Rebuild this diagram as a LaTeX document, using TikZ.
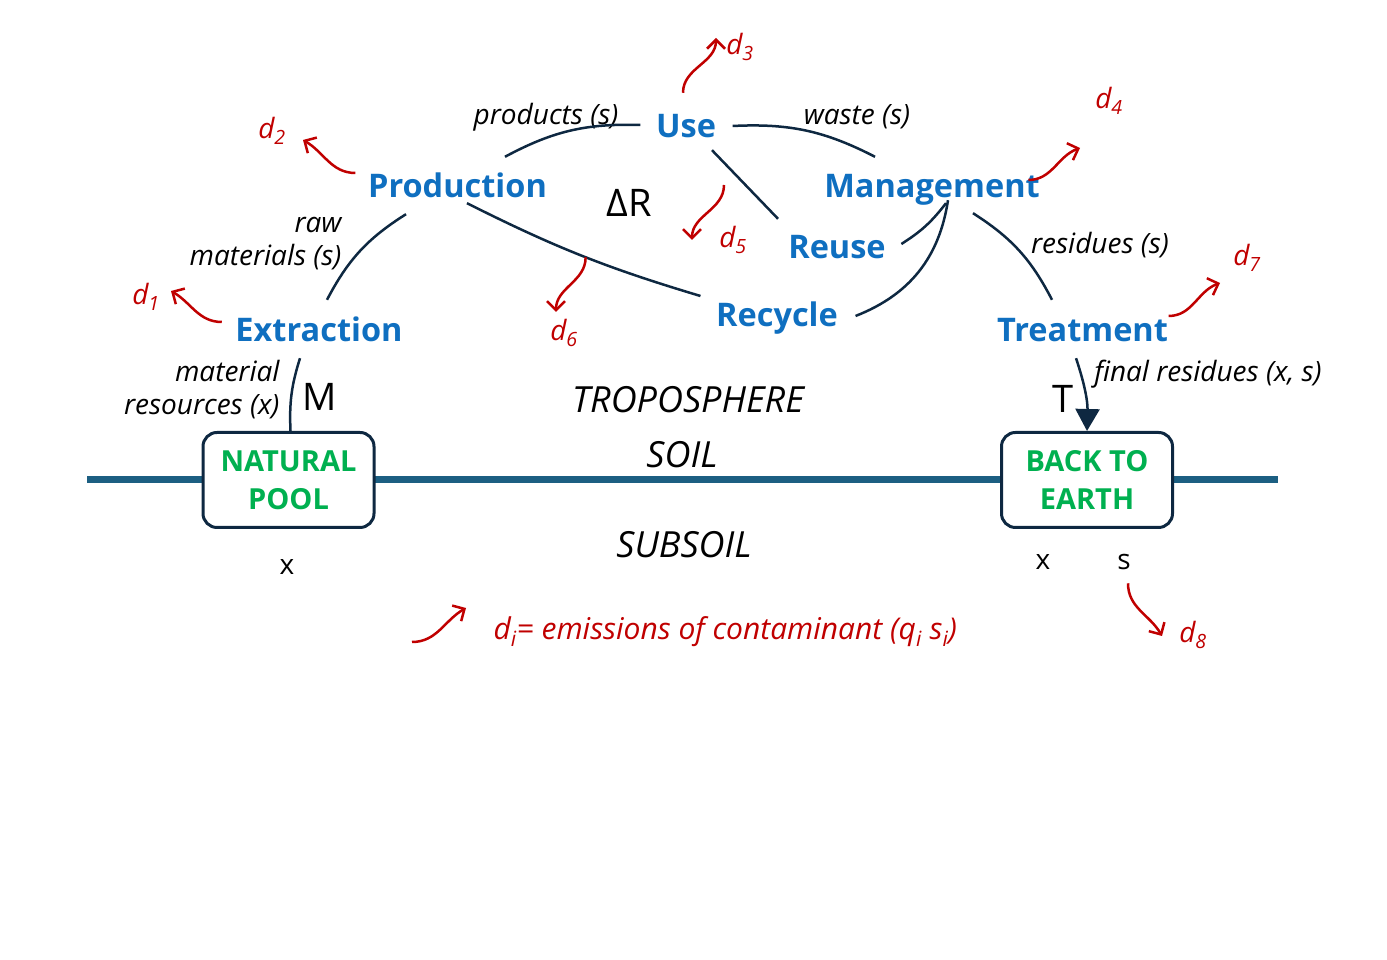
\documentclass[tikz,border=0pt]{standalone}
\usepackage{fontspec}
\setmainfont{Open Sans}
\usepackage{tikz}
\usetikzlibrary{arrows.meta,calc}
\definecolor{cyclblue}{HTML}{0F6FC0}
\definecolor{cyclnavy}{HTML}{0E2841}
\definecolor{cyclred}{HTML}{C00000}
\definecolor{cyclgreen}{HTML}{00B050}
\definecolor{cyclground}{HTML}{1C5F82}
\tikzstyle{stage} = [font=\fontsize{32.5}{36}\selectfont\bfseries, text=cyclblue,
    text height=24pt, text depth=6pt, inner sep=5.5pt]
\tikzstyle{pool} = [rectangle, draw=cyclnavy, line width=3pt, rounded corners=14pt,
    fill=white, minimum width=171pt, minimum height=95pt, align=center,
    font=\fontsize{29}{38}\selectfont\bfseries, text=cyclgreen]
\tikzstyle{flow} = [line width=2.5pt, cyclnavy]
\tikzstyle{flowlabel} = [font=\fontsize{28}{33}\selectfont\itshape]
\tikzstyle{layer} = [font=\fontsize{36}{40}\selectfont\itshape]
\tikzstyle{symb} = [font=\fontsize{38}{40}\selectfont]
\tikzstyle{stock} = [font=\fontsize{28}{30}\selectfont]
\tikzstyle{emit} = [-{Straight Barb[length=9pt,width=18pt]}, line width=2.5pt, cyclred]
\tikzstyle{emitlabel} = [font=\fontsize{28}{30}\selectfont\itshape, text=cyclred]

\begin{document}
\begin{tikzpicture}[x=1pt,y=1pt]
\useasboundingbox (0,0) rectangle (1387,960);

\node[stage] (use) at (686,831.5) {Use};
\node[stage] (prod) at (457.5,771.5) {Production};
\node[stage] (mgmt) at (932,771.5) {Management};
\node[stage] (reuse) at (837,710.5) {Reuse};
\node[stage] (recyc) at (777,642.5) {Recycle};
\node[stage] (extr) at (319,627.5) {Extraction};
\node[stage] (treat) at (1082.5,627.5) {Treatment};

\draw[line width=7pt, cyclground] (87,480) -- (1278,480);
\node[pool] (natpool) at (288.5,480) {NATURAL\\POOL};
\node[pool] (earth) at (1087,480) {BACK TO\\EARTH};

\node[layer] (tropo) at (688,560) {TROPOSPHERE};
\node[layer] (soil) at (682,505) {SOIL};
\node[layer] (subsoil) at (684,415) {SUBSOIL};

\node[symb] (dr) at (629,757) {ΔR};
\node[symb] (mstock) at (320,563) {M};
\node[symb] (tstock) at (1063,561) {T};
\node[stock] (xpool) at (287,393) {x};
\node[stock] (xearth) at (1043,398) {x};
\node[stock] (searth) at (1124,398) {s};

\node[flowlabel] (lprod) at (546,843) {products (s)};
\node[flowlabel] (lwaste) at (857,843) {waste (s)};
\node[flowlabel, anchor=east, align=right] (lraw) at (345,716) {raw\\materials (s)};
\node[flowlabel] (lres) at (1100,715) {residues (s)};
\node[flowlabel, anchor=east, align=right] (lmat) at (283,570) {material\\resources (x)};
\node[flowlabel] (lfinal) at (1208,586) {final residues (x, s)};

\draw[flow] ($(prod.north)+(47.5,11)$) to[bend left=15] ($(use.west)+(-10,3.5)$);
\draw[flow] ($(use.east)+(11,2.5)$) to[bend left=15] ($(mgmt.north)+(-57,11)$);
\draw[flow] ($(use.south)+(26,-1)$) -- ($(reuse.north)+(-59,10)$);
\draw[flow] ($(prod.south)+(9.5,6)$) to[bend right=5] coordinate[pos=0.52] (d6src) ($(recyc.west)+(-10,21.5)$);
\draw[flow] ($(reuse.east)+(10,5.5)$) to[bend right=10] ($(mgmt.south)+(14,6)$);
\draw[flow] ($(recyc.east)+(12,1.5)$) to[bend right=30] ($(mgmt.south)+(16,9)$);
\draw[flow] ($(mgmt.south)+(41,-4)$) to[bend left=15] ($(treat.north)+(-30.5,12)$);
\draw[flow] ($(extr.north)+(8,12)$) to[bend left=15] ($(prod.south)+(-51.5,-5)$);
\draw[flow] ($(natpool.north)+(2,0)$) to[bend left=10] ($(extr.south)+(-19,-5)$);
\draw[flow, -{Triangle[length=22pt,width=24pt]}] ($(treat.south)+(-6.5,-5)$) to[bend left=10] (earth.north);

\node[emitlabel] (d1) at (146,663) {d\textsubscript{1}};
\node[emitlabel] (d2) at (272,829) {d\textsubscript{2}};
\node[emitlabel] (d3) at (740,913) {d\textsubscript{3}};
\node[emitlabel] (d4) at (1109,859) {d\textsubscript{4}};
\node[emitlabel] (d5) at (733,720) {d\textsubscript{5}};
\node[emitlabel] (d6) at (564,627) {d\textsubscript{6}};
\node[emitlabel] (d7) at (1247,702) {d\textsubscript{7}};
\node[emitlabel] (d8) at (1193,325) {d\textsubscript{8}};

\coordinate (d1tip) at (171,669);
\coordinate (d2tip) at (303,820);
\coordinate (d3tip) at (716,922);
\coordinate (d4tip) at (1080,812);
\coordinate (d5src) at (724,775);
\coordinate (d5tip) at (692,720);
\coordinate (d6tip) at (556,648);
\coordinate (d7tip) at (1220,677);
\coordinate (d8tip) at (1162,324);
\coordinate (legsrc) at (412,318);
\coordinate (legtip) at (466,352);

\draw[emit] ($(extr.west)+(-8,10.5)$) to[out=180,in=-30] (d1tip);
\draw[emit] ($(prod.west)+(-7,15.5)$) to[out=180,in=-30] (d2tip);
\draw[emit] ($(use.north)+(-3,15)$) to[out=90,in=-90] (d3tip);
\draw[emit] ($(mgmt.east)+(-17,8.5)$) to[out=0,in=200] (d4tip);
\draw[emit] (d5src) to[out=-90,in=90] (d5tip);
\draw[emit] (d6src) to[out=-90,in=90] (d6tip);
\draw[emit] ($(treat.east)+(-5,16.5)$) to[out=0,in=200] (d7tip);
\draw[emit] ($(searth.south)+(4,-10)$) to[out=-90,in=120] (d8tip);
\draw[emit] (legsrc) to[out=0,in=210] (legtip);

\node[emitlabel, font=\fontsize{30}{34}\selectfont\itshape, anchor=west] (legend) at (490,328)
    {d\textsubscript{i}= emissions of contaminant (q\textsubscript{i} s\textsubscript{i})};
\end{tikzpicture}
\end{document}
